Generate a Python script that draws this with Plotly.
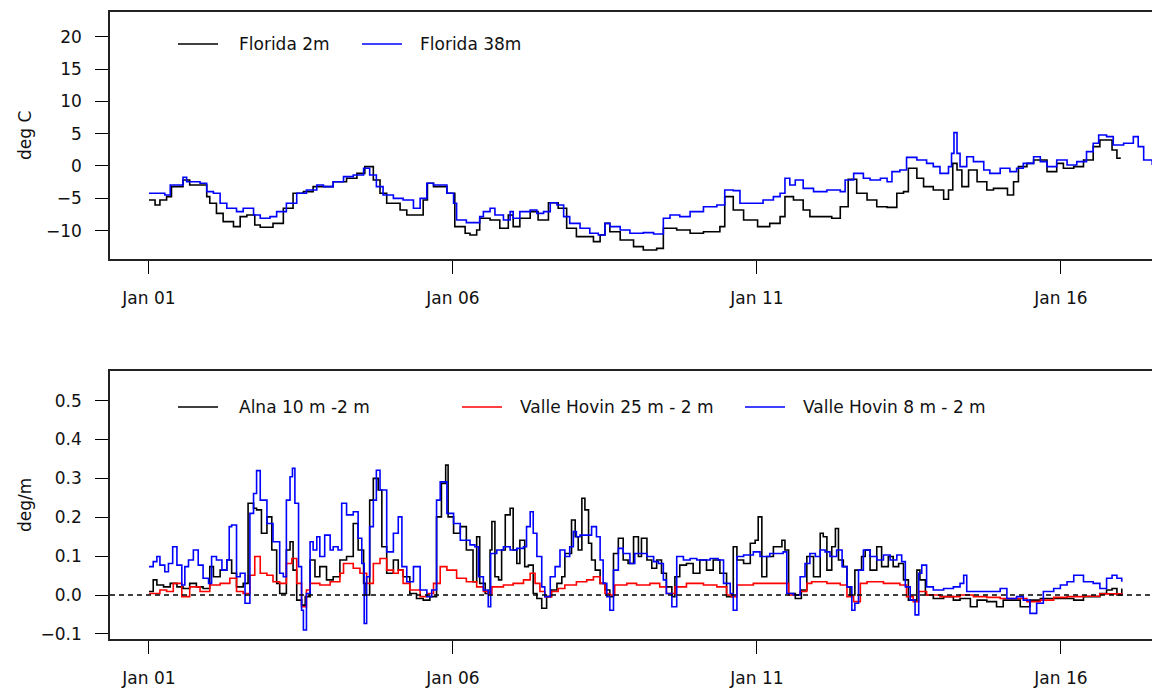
import pandas as pd
import plotly.graph_objects as go

# ---------------- data (days since Jan 01 00:00, values) ----------------
# Top panel: temperature, deg C
t_fl2 = [0.00, 0.10, 0.18, 0.29, 0.37, 0.56, 0.67, 0.84, 0.95, 1.00, 1.11, 1.22, 1.39, 1.50, 1.61, 1.74, 1.83,
         2.04, 2.21, 2.37, 2.54, 2.70, 2.87, 3.03, 3.25, 3.42, 3.55, 3.69, 3.80, 3.91, 4.13, 4.24, 4.40, 4.51,
         4.58, 4.68, 4.90, 5.03, 5.20, 5.28, 5.39, 5.44, 5.61, 5.77, 5.91, 5.99, 6.10, 6.27, 6.40, 6.57, 6.73,
         6.87, 7.03, 7.31, 7.42, 7.50, 7.58, 7.75, 7.97, 8.13, 8.35, 8.46, 8.68, 8.90, 9.12, 9.39, 9.47, 9.61,
         9.78, 10.01, 10.21, 10.38, 10.46, 10.60, 10.76, 10.87, 11.09, 11.23, 11.37, 11.50, 11.64, 11.81, 11.97,
         12.14, 12.30, 12.41, 12.49, 12.63, 12.74, 12.90, 13.07, 13.15, 13.22, 13.29, 13.37, 13.48, 13.62, 13.78,
         13.89, 14.08, 14.12, 14.22, 14.30, 14.44, 14.55, 14.77, 14.93, 15.04, 15.21, 15.37, 15.53, 15.64, 15.75,
         15.84, 15.92, 15.97]
v_fl2 = [-5.26, -6.04, -5.26, -4.75, -3.20, -2.17, -2.94, -2.94, -4.75, -5.78, -7.33, -8.62, -9.39, -7.84, -7.59,
         -9.13, -9.49, -8.88, -6.55, -4.23, -3.97, -3.20, -3.20, -2.43, -1.91, -1.14, -0.10, -2.17, -4.23, -5.78,
         -6.81, -7.59, -7.59, -5.26, -2.68, -3.20, -4.23, -9.39, -10.42, -10.68, -9.91, -8.10, -8.36, -9.65, -7.59,
         -9.39, -8.10, -7.07, -8.36, -5.68, -6.55, -9.65, -10.94, -11.71, -10.68, -8.88, -10.17, -11.46, -12.49,
         -13.00, -12.75, -9.65, -9.91, -10.42, -10.17, -9.39, -4.75, -6.81, -8.36, -9.39, -8.88, -7.84, -4.75,
         -5.26, -6.81, -7.84, -7.84, -8.10, -6.30, -2.06, -4.23, -5.26, -6.30, -6.40, -4.23, -3.97, -0.36, -1.91,
         -3.20, -3.72, -5.16, -3.72, 0.41, -0.62, -3.20, -0.62, -2.43, -3.72, -3.46, -3.46, -4.49, -2.43, -0.10,
         0.41, 0.93, -0.88, 0.41, -0.36, -0.10, 0.93, 2.99, 4.02, 4.02, 2.48, 1.19, 1.34]

t_fl38 = [0.00, 0.24, 0.26, 0.35, 0.56, 0.62, 0.84, 0.95, 1.06, 1.17, 1.28, 1.44, 1.55, 1.72, 1.83, 1.99, 2.10,
          2.26, 2.43, 2.59, 2.76, 2.87, 3.03, 3.20, 3.36, 3.53, 3.63, 3.74, 3.85, 4.02, 4.18, 4.35, 4.46, 4.57,
          4.68, 4.90, 5.01, 5.06, 5.22, 5.28, 5.44, 5.50, 5.61, 5.69, 5.83, 5.94, 5.99, 6.10, 6.27, 6.38, 6.49,
          6.60, 6.71, 6.82, 6.92, 7.09, 7.25, 7.39, 7.50, 7.58, 7.75, 7.91, 8.13, 8.30, 8.46, 8.57, 8.73, 8.90,
          9.12, 9.34, 9.47, 9.61, 9.72, 9.94, 10.10, 10.27, 10.38, 10.46, 10.54, 10.63, 10.76, 10.93, 11.15, 11.37,
          11.45, 11.59, 11.75, 11.86, 12.03, 12.14, 12.22, 12.35, 12.46, 12.63, 12.79, 12.90, 13.01, 13.15, 13.20,
          13.24, 13.29, 13.34, 13.45, 13.56, 13.73, 13.83, 14.00, 14.16, 14.27, 14.38, 14.55, 14.66, 14.77, 14.93,
          15.10, 15.26, 15.42, 15.53, 15.62, 15.75, 15.86, 16.03, 16.19, 16.27, 16.36, 16.50]
v_fl38 = [-4.23, -4.23, -4.49, -2.94, -1.75, -2.43, -2.68, -3.97, -4.23, -5.78, -6.55, -7.07, -6.55, -7.59, -8.10,
          -7.84, -7.07, -5.78, -4.23, -3.72, -2.94, -3.20, -2.43, -1.65, -1.39, -0.36, -1.39, -3.20, -4.49, -5.01,
          -5.26, -6.55, -5.01, -2.68, -2.94, -4.23, -5.78, -8.36, -8.77, -8.77, -7.84, -7.07, -6.55, -7.59, -8.36,
          -7.07, -8.10, -7.07, -6.81, -7.33, -7.07, -5.68, -6.04, -7.84, -8.88, -9.65, -10.42, -10.68, -8.88, -9.39,
          -9.91, -10.42, -10.32, -10.53, -8.10, -7.59, -7.84, -7.07, -6.30, -6.04, -3.72, -3.82, -5.78, -5.78,
          -5.26, -4.75, -4.23, -1.91, -2.94, -2.17, -3.46, -3.97, -3.72, -3.97, -2.17, -1.14, -1.91, -2.17, -1.91,
          -2.43, -0.88, -0.62, 1.34, 0.93, 0.41, -0.10, -1.14, -0.10, 1.96, 5.16, 1.96, -0.10, 1.44, 0.67, -0.62,
          -1.14, -0.36, -0.88, -0.36, 0.41, 1.44, 0.67, -0.10, 0.93, 0.15, 0.67, 2.22, 3.51, 4.80, 4.54, 3.25,
          3.51, 4.54, 2.99, 0.93, 0.15]

# Bottom panel: gradients, deg/m
t_alna = [0.00, 0.07, 0.13, 0.24, 0.35, 0.46, 0.56, 0.67, 0.78, 0.89, 1.00, 1.06, 1.17, 1.28, 1.36, 1.44, 1.55,
          1.63, 1.72, 1.77, 1.85, 1.94, 2.02, 2.10, 2.15, 2.26, 2.32, 2.37, 2.43, 2.51, 2.57, 2.65, 2.73, 2.81,
          2.92, 3.03, 3.14, 3.25, 3.36, 3.44, 3.53, 3.57, 3.63, 3.69, 3.77, 3.83, 3.91, 4.02, 4.10, 4.18, 4.29,
          4.40, 4.51, 4.62, 4.73, 4.81, 4.88, 4.92, 5.01, 5.12, 5.22, 5.33, 5.39, 5.44, 5.53, 5.61, 5.64, 5.69,
          5.75, 5.80, 5.86, 5.94, 5.99, 6.05, 6.10, 6.18, 6.24, 6.32, 6.38, 6.46, 6.54, 6.62, 6.71, 6.79, 6.84,
          6.95, 7.01, 7.06, 7.12, 7.17, 7.23, 7.28, 7.34, 7.42, 7.50, 7.58, 7.64, 7.72, 7.80, 7.88, 7.97, 8.05,
          8.10, 8.19, 8.27, 8.35, 8.43, 8.51, 8.60, 8.65, 8.73, 8.84, 8.95, 9.06, 9.17, 9.28, 9.39, 9.50, 9.56,
          9.61, 9.67, 9.78, 9.89, 9.97, 10.02, 10.08, 10.16, 10.27, 10.35, 10.41, 10.46, 10.52, 10.63, 10.73,
          10.82, 10.93, 11.04, 11.09, 11.15, 11.23, 11.29, 11.34, 11.42, 11.48, 11.53, 11.61, 11.72, 11.78, 11.86,
          11.97, 12.05, 12.16, 12.24, 12.33, 12.41, 12.49, 12.57, 12.63, 12.68, 12.77, 12.90, 13.07, 13.23, 13.34,
          13.51, 13.62, 13.78, 13.94, 14.05, 14.22, 14.33, 14.49, 14.66, 14.82, 14.99, 15.21, 15.37, 15.53, 15.64,
          15.75, 15.84, 15.92, 16.00]
v_alna = [0.009, 0.039, 0.026, 0.021, 0.030, 0.021, 0.017, 0.030, 0.021, 0.017, 0.073, 0.047, 0.064, 0.090, 0.056,
          0.021, 0.030, 0.236, 0.223, 0.219, 0.159, 0.201, 0.116, 0.030, 0.004, 0.116, 0.137, 0.064, -0.013, -0.026,
          -0.004, 0.090, 0.047, 0.073, 0.039, 0.047, 0.090, 0.099, 0.184, 0.116, 0.030, 0.000, 0.244, 0.300, 0.270,
          0.124, 0.056, 0.090, 0.064, 0.047, 0.004, -0.009, -0.013, -0.004, 0.201, 0.287, 0.334, 0.201, 0.159,
          0.176, 0.116, 0.034, 0.150, 0.030, 0.004, 0.116, 0.189, 0.047, 0.039, 0.116, 0.206, 0.223, 0.116, 0.081,
          0.141, 0.073, 0.077, 0.004, -0.009, -0.034, -0.004, 0.013, 0.030, 0.047, 0.107, 0.193, 0.150, 0.116,
          0.249, 0.219, 0.133, 0.090, 0.064, 0.030, 0.013, -0.004, 0.107, 0.146, 0.090, 0.081, 0.150, 0.099, 0.146,
          0.090, 0.069, 0.090, 0.056, 0.021, -0.004, 0.047, 0.077, 0.081, 0.056, 0.090, 0.064, 0.090, 0.056, -0.004,
          -0.004, 0.124, 0.090, 0.081, 0.133, 0.141, 0.201, 0.047, 0.099, 0.124, 0.124, 0.141, 0.116, 0.004, -0.009,
          0.013, 0.099, 0.047, 0.159, 0.150, 0.064, 0.124, 0.171, 0.090, 0.073, 0.021, 0.000, 0.064, 0.099, 0.116,
          0.064, 0.124, 0.073, 0.099, 0.073, 0.081, 0.039, -0.013, -0.013, 0.064, 0.039, 0.000, -0.009, -0.004,
          -0.013, -0.009, -0.030, -0.013, -0.017, -0.030, -0.013, -0.013, -0.030, -0.013, -0.009, -0.009, -0.009,
          -0.013, -0.004, -0.004, 0.004, 0.013, 0.017, 0.000, 0.017]

t_vh25 = [0.00, 0.18, 0.29, 0.40, 0.54, 0.67, 0.84, 1.00, 1.17, 1.33, 1.44, 1.55, 1.66, 1.74, 1.83, 1.94, 2.04,
          2.15, 2.26, 2.35, 2.43, 2.51, 2.59, 2.65, 2.81, 2.98, 3.14, 3.20, 3.36, 3.47, 3.58, 3.69, 3.80, 3.91,
          4.02, 4.10, 4.18, 4.29, 4.46, 4.57, 4.68, 4.79, 4.90, 5.06, 5.22, 5.39, 5.50, 5.58, 5.64, 5.83, 5.99,
          6.16, 6.27, 6.35, 6.43, 6.51, 6.62, 6.73, 6.84, 7.03, 7.20, 7.31, 7.42, 7.50, 7.58, 7.66, 7.86, 8.02,
          8.24, 8.40, 8.51, 8.65, 8.84, 9.12, 9.34, 9.50, 9.58, 9.67, 9.94, 10.21, 10.43, 10.52, 10.71, 10.82,
          10.90, 11.15, 11.37, 11.48, 11.59, 11.70, 11.81, 12.08, 12.35, 12.46, 12.57, 12.66, 12.79, 13.01, 13.34,
          13.56, 13.78, 14.00, 14.22, 14.44, 14.66, 14.88, 15.10, 15.37, 15.64, 15.86, 16.00]
v_vh25 = [0.004, 0.013, 0.009, 0.030, -0.004, 0.021, 0.009, 0.026, 0.030, 0.043, 0.009, 0.004, 0.051, 0.099, 0.056,
          0.051, 0.034, 0.030, 0.081, 0.094, 0.030, -0.030, 0.013, 0.030, 0.026, 0.034, 0.056, 0.081, 0.069, 0.056,
          0.030, 0.081, 0.094, 0.064, 0.056, 0.064, 0.030, 0.013, -0.004, 0.004, 0.030, 0.073, 0.064, 0.043, 0.034,
          0.021, 0.009, 0.004, 0.021, 0.026, 0.030, 0.039, 0.056, 0.030, 0.009, -0.004, 0.009, 0.017, 0.026, 0.034,
          0.039, 0.047, 0.030, 0.004, 0.000, 0.026, 0.030, 0.026, 0.030, 0.021, 0.004, 0.021, 0.030, 0.026, 0.021,
          0.000, -0.004, 0.026, 0.030, 0.030, 0.030, 0.000, 0.009, 0.030, 0.034, 0.030, 0.026, -0.004, -0.017,
          0.030, 0.034, 0.030, 0.026, -0.004, -0.017, 0.009, 0.000, -0.004, 0.000, -0.004, -0.006, -0.009, -0.009,
          -0.017, -0.013, -0.006, -0.004, -0.003, 0.003, 0.003, 0.000]

t_vh8 = [0.00, 0.07, 0.13, 0.18, 0.26, 0.32, 0.39, 0.46, 0.54, 0.59, 0.65, 0.73, 0.81, 0.89, 0.98, 1.03, 1.11,
         1.20, 1.28, 1.32, 1.36, 1.44, 1.50, 1.58, 1.66, 1.72, 1.77, 1.83, 1.94, 2.04, 2.15, 2.21, 2.26, 2.32,
         2.36, 2.40, 2.46, 2.51, 2.54, 2.59, 2.65, 2.70, 2.76, 2.81, 2.89, 2.98, 3.03, 3.11, 3.17, 3.25, 3.36,
         3.44, 3.50, 3.54, 3.58, 3.63, 3.69, 3.74, 3.80, 3.91, 4.02, 4.10, 4.16, 4.24, 4.35, 4.46, 4.57, 4.65,
         4.73, 4.79, 4.90, 5.01, 5.12, 5.28, 5.36, 5.42, 5.50, 5.58, 5.62, 5.72, 5.83, 5.94, 6.05, 6.16, 6.21,
         6.27, 6.32, 6.38, 6.46, 6.51, 6.60, 6.68, 6.76, 6.84, 6.92, 6.98, 7.03, 7.09, 7.20, 7.28, 7.36, 7.42,
         7.47, 7.53, 7.58, 7.64, 7.72, 7.80, 7.91, 7.99, 8.08, 8.19, 8.30, 8.38, 8.46, 8.51, 8.60, 8.68, 8.79,
         8.90, 9.01, 9.12, 9.23, 9.36, 9.45, 9.56, 9.61, 9.67, 9.78, 9.94, 10.05, 10.21, 10.32, 10.43, 10.49,
         10.60, 10.71, 10.79, 10.87, 10.96, 11.04, 11.12, 11.20, 11.31, 11.40, 11.48, 11.56, 11.61, 11.67, 11.75,
         11.86, 11.97, 12.08, 12.19, 12.30, 12.38, 12.44, 12.52, 12.60, 12.66, 12.71, 12.79, 12.90, 13.07, 13.23,
         13.34, 13.40, 13.45, 13.62, 13.78, 14.00, 14.11, 14.27, 14.38, 14.49, 14.60, 14.71, 14.88, 14.99, 15.10,
         15.21, 15.37, 15.53, 15.64, 15.75, 15.84, 15.92, 16.00]
v_vh8 = [0.073, 0.086, 0.099, 0.077, 0.060, 0.081, 0.124, 0.077, 0.026, 0.073, 0.090, 0.116, 0.077, 0.043, 0.030,
         0.099, 0.090, 0.064, 0.090, 0.176, 0.180, 0.047, 0.056, -0.021, 0.210, 0.261, 0.320, 0.244, 0.184, 0.137,
         0.056, 0.047, 0.244, 0.304, 0.326, 0.236, 0.073, -0.039, -0.090, 0.004, 0.137, 0.116, 0.150, 0.099, 0.154,
         0.116, 0.124, 0.116, 0.236, 0.206, 0.214, 0.146, 0.081, -0.073, 0.047, 0.176, 0.244, 0.321, 0.270, 0.111,
         0.159, 0.201, 0.073, 0.034, 0.073, 0.013, -0.004, 0.013, 0.244, 0.291, 0.210, 0.184, 0.141, 0.129, 0.124,
         0.047, 0.013, -0.030, 0.107, 0.116, 0.124, 0.116, 0.120, 0.124, 0.176, 0.214, 0.159, 0.099, 0.021, -0.004,
         0.047, 0.073, 0.116, 0.099, 0.124, 0.163, 0.150, 0.154, 0.154, 0.176, 0.150, 0.090, 0.030, -0.004, -0.039,
         0.064, 0.120, 0.107, 0.081, 0.107, 0.107, 0.099, 0.086, 0.081, 0.039, 0.004, -0.030, 0.099, 0.090, 0.094,
         0.090, 0.090, 0.094, 0.090, 0.030, 0.004, -0.039, 0.099, 0.103, 0.111, 0.099, 0.107, 0.107, 0.111, 0.004,
         0.000, 0.047, 0.081, 0.107, 0.099, 0.116, 0.111, 0.099, 0.116, 0.073, 0.021, -0.039, -0.021, 0.064, 0.116,
         0.099, 0.090, 0.103, 0.090, 0.103, 0.086, 0.021, -0.013, -0.051, 0.056, 0.077, 0.021, 0.013, 0.017, 0.021,
         0.030, 0.051, 0.009, 0.009, 0.009, 0.017, -0.009, -0.004, -0.013, -0.047, -0.021, 0.009, 0.017, 0.026,
         0.034, 0.051, 0.034, 0.030, 0.017, 0.043, 0.051, 0.043, 0.034]

tick_days = [0, 5, 10, 15]
tick_labels = ["Jan 01", "Jan 06", "Jan 11", "Jan 16"]
top_yticks = [-10, -5, 0, 5, 10, 15, 20]
bot_yticks = [-0.1, 0.0, 0.1, 0.2, 0.3, 0.4, 0.5]
legend_top = ["Florida 2m", "Florida 38m"]
legend_bot = ["Alna 10 m -2 m", "Valle Hovin 25 m - 2 m", "Valle Hovin 8 m - 2 m"]

# ---------------- figure ----------------
W, H = 1152, 691
BASE = pd.Timestamp("2010-01-01")


def to_dt(days):
    return BASE + pd.to_timedelta(pd.Series(days, dtype=float), unit="D")


def px_x(p):
    return p / W


def px_y(p):
    return 1 - p / H


FONT = "DejaVu Sans, Liberation Sans, Arial, sans-serif"
FS = 17
LW = 1.6

fig = go.Figure()
series = [
    (t_fl2, v_fl2, "black", "x", "y", legend_top[0]),
    (t_fl38, v_fl38, "blue", "x", "y", legend_top[1]),
    (t_alna, v_alna, "black", "x2", "y2", legend_bot[0]),
    (t_vh25, v_vh25, "red", "x2", "y2", legend_bot[1]),
    (t_vh8, v_vh8, "blue", "x2", "y2", legend_bot[2]),
]
for t, v, c, xa, ya, nm in series:
    fig.add_trace(go.Scatter(x=to_dt(t), y=v, mode="lines", name=nm,
                             line=dict(color=c, width=LW, shape="hv"), xaxis=xa, yaxis=ya,
                             showlegend=False, hoverinfo="x+y+name"))

x_range = [BASE + pd.Timedelta(days=-0.641), BASE + pd.Timedelta(days=16.497)]
tickvals = list(to_dt(tick_days))

common_x = dict(range=x_range, tickvals=tickvals, ticktext=tick_labels, ticks="outside",
                ticklen=13, tickwidth=1.2, tickcolor="black", showline=True, linecolor="#222",
                linewidth=1.5, mirror=True, showgrid=False, zeroline=False, automargin=False,
                tickfont=dict(family=FONT, size=FS, color="#111"), ticklabelstandoff=10,
                domain=[px_x(110), 1.0])
common_y = dict(ticks="outside", ticklen=13, tickwidth=1.2, tickcolor="black", showline=True,
                linecolor="#222", linewidth=1.5, mirror=False, showgrid=False, zeroline=False,
                automargin=False, tickfont=dict(family=FONT, size=FS, color="#111"),
                ticklabelstandoff=10)

fig.update_layout(
    width=W, height=H, margin=dict(l=0, r=0, t=0, b=0, autoexpand=False),
    paper_bgcolor="white", plot_bgcolor="white", showlegend=False,
    font=dict(family=FONT, size=FS, color="#111"),
    xaxis=dict(anchor="y", **common_x),
    yaxis=dict(anchor="x", domain=[px_y(259), px_y(12)], range=[-14.40, 23.84],
               tickvals=top_yticks, **common_y),
    xaxis2=dict(anchor="y2", **common_x),
    yaxis2=dict(anchor="x2", domain=[px_y(639), px_y(371)], range=[-0.113, 0.576],
                tickvals=bot_yticks, tickformat=".1f", **common_y),
)

# zero reference line (dashed) in the lower panel
fig.add_shape(type="line", xref="x2 domain", yref="y2", x0=0, x1=1, y0=0, y1=0,
              line=dict(color="black", width=1.5, dash="5px,4px"))

# y-axis titles
fig.add_annotation(text="deg C", xref="paper", yref="paper", x=px_x(25), y=px_y(136),
                   textangle=-90, showarrow=False, xanchor="center", yanchor="middle",
                   font=dict(family=FONT, size=FS, color="#111"))
fig.add_annotation(text="deg/m", xref="paper", yref="paper", x=px_x(25), y=px_y(505),
                   textangle=-90, showarrow=False, xanchor="center", yanchor="middle",
                   font=dict(family=FONT, size=FS, color="#111"))

# legends (manual, R style)
legend_items = [
    (legend_top[0], "black", 178, 237, 44),
    (legend_top[1], "blue", 362, 418, 44),
    (legend_bot[0], "black", 178, 237, 407),
    (legend_bot[1], "red", 462, 518, 407),
    (legend_bot[2], "blue", 745, 801, 407),
]
for txt, col, lx, tx, ly in legend_items:
    fig.add_shape(type="line", xref="paper", yref="paper", x0=px_x(lx), x1=px_x(lx + 40),
                  y0=px_y(ly), y1=px_y(ly), line=dict(color=col, width=LW))
    fig.add_annotation(text=txt, xref="paper", yref="paper", x=px_x(tx), y=px_y(ly),
                       showarrow=False, xanchor="left", yanchor="middle",
                       font=dict(family=FONT, size=FS, color="#111"))

fig.write_html("out.html", config={"displayModeBar": False},
               post_script="document.body.style.margin='0';document.body.style.overflow='hidden';")
